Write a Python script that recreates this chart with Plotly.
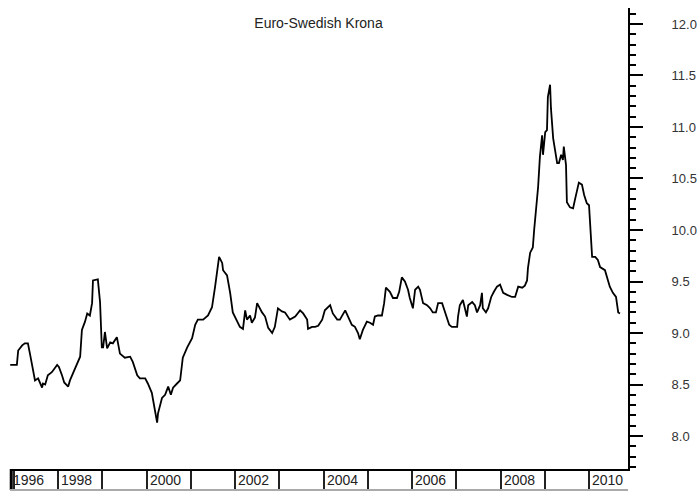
import plotly.graph_objects as go

# Decimal-year positions and EUR/SEK values
years = [1996.92, 1997.07, 1997.10, 1997.19, 1997.25, 1997.32, 1997.37, 1997.44, 1997.48, 1997.55,
         1997.64, 1997.66, 1997.71, 1997.77, 1997.86, 1997.98, 1998.02, 1998.09, 1998.14, 1998.23,
         1998.27, 1998.34, 1998.45, 1998.50, 1998.54, 1998.61, 1998.66, 1998.72, 1998.77, 1998.79,
         1998.90, 1998.95, 1998.99, 1999.02, 1999.06, 1999.11, 1999.18, 1999.24, 1999.33, 1999.40,
         1999.51, 1999.63, 1999.69, 1999.79, 1999.85, 1999.97, 2000.03, 2000.12, 2000.19, 2000.24,
         2000.26, 2000.35, 2000.42, 2000.49, 2000.55, 2000.60, 2000.69, 2000.76, 2000.82, 2000.92,
         2001.03, 2001.10, 2001.16, 2001.28, 2001.39, 2001.48, 2001.55, 2001.59, 2001.64, 2001.71,
         2001.73, 2001.82, 2001.89, 2001.95, 2002.05, 2002.11, 2002.18, 2002.23, 2002.27, 2002.34,
         2002.38, 2002.45, 2002.50, 2002.61, 2002.68, 2002.75, 2002.84, 2002.90, 2002.97, 2003.06,
         2003.13, 2003.18, 2003.24, 2003.36, 2003.47, 2003.54, 2003.63, 2003.65, 2003.74, 2003.81,
         2003.88, 2003.97, 2004.03, 2004.15, 2004.21, 2004.31, 2004.37, 2004.49, 2004.55, 2004.64,
         2004.71, 2004.78, 2004.82, 2004.89, 2004.98, 2005.05, 2005.12, 2005.16, 2005.23, 2005.32,
         2005.37, 2005.41, 2005.50, 2005.57, 2005.66, 2005.71, 2005.77, 2005.84, 2005.91, 2005.95,
         2006.02, 2006.07, 2006.14, 2006.18, 2006.25, 2006.34, 2006.41, 2006.47, 2006.54, 2006.59,
         2006.68, 2006.72, 2006.79, 2006.84, 2006.90, 2007.02, 2007.04, 2007.08, 2007.15, 2007.20,
         2007.24, 2007.27, 2007.36, 2007.42, 2007.47, 2007.54, 2007.58, 2007.60, 2007.67, 2007.72,
         2007.79, 2007.85, 2007.92, 2007.99, 2008.06, 2008.15, 2008.26, 2008.33, 2008.40, 2008.49,
         2008.55, 2008.60, 2008.62, 2008.67, 2008.73, 2008.76, 2008.80, 2008.85, 2008.89, 2008.94,
         2008.96, 2009.01, 2009.05, 2009.07, 2009.12, 2009.14, 2009.19, 2009.23, 2009.28, 2009.32,
         2009.37, 2009.41, 2009.43, 2009.48, 2009.50, 2009.57, 2009.64, 2009.68, 2009.73, 2009.77,
         2009.84, 2009.89, 2009.95, 2010.00, 2010.07, 2010.14, 2010.20, 2010.25, 2010.36, 2010.41,
         2010.47, 2010.54, 2010.61, 2010.66, 2010.70]

rates = [8.69, 8.69, 8.83, 8.88, 8.90, 8.90, 8.79, 8.61, 8.54, 8.56,
         8.47, 8.51, 8.50, 8.59, 8.62, 8.69, 8.67, 8.59, 8.52, 8.48,
         8.54, 8.61, 8.71, 8.77, 9.03, 9.11, 9.19, 9.17, 9.29, 9.51,
         9.52, 9.30, 8.86, 8.86, 9.01, 8.85, 8.91, 8.90, 8.96, 8.80,
         8.76, 8.77, 8.72, 8.59, 8.56, 8.56, 8.51, 8.42, 8.25, 8.13,
         8.22, 8.37, 8.40, 8.48, 8.40, 8.47, 8.51, 8.54, 8.76, 8.86,
         8.95, 9.08, 9.13, 9.13, 9.17, 9.25, 9.45, 9.59, 9.74, 9.68,
         9.61, 9.56, 9.39, 9.20, 9.11, 9.06, 9.04, 9.22, 9.13, 9.17,
         9.10, 9.15, 9.29, 9.20, 9.16, 9.05, 9.00, 9.06, 9.24, 9.21,
         9.20, 9.17, 9.13, 9.16, 9.22, 9.19, 9.13, 9.04, 9.06, 9.06,
         9.07, 9.13, 9.22, 9.27, 9.19, 9.13, 9.13, 9.22, 9.17, 9.08,
         9.06, 9.00, 8.94, 9.03, 9.11, 9.10, 9.08, 9.16, 9.17, 9.17,
         9.29, 9.44, 9.40, 9.34, 9.34, 9.40, 9.54, 9.50, 9.42, 9.34,
         9.24, 9.42, 9.45, 9.42, 9.29, 9.27, 9.24, 9.20, 9.20, 9.29,
         9.29, 9.24, 9.15, 9.08, 9.06, 9.06, 9.16, 9.27, 9.32, 9.24,
         9.16, 9.27, 9.30, 9.27, 9.20, 9.27, 9.39, 9.24, 9.20, 9.24,
         9.35, 9.40, 9.45, 9.47, 9.39, 9.37, 9.35, 9.35, 9.45, 9.44,
         9.46, 9.51, 9.63, 9.78, 9.83, 10.00, 10.17, 10.42, 10.71, 10.92,
         10.73, 10.95, 10.97, 11.29, 11.41, 11.18, 10.89, 10.80, 10.65, 10.65,
         10.73, 10.68, 10.81, 10.63, 10.27, 10.22, 10.21, 10.29, 10.39, 10.46,
         10.44, 10.34, 10.26, 10.24, 9.74, 9.74, 9.71, 9.64, 9.61, 9.53,
         9.45, 9.39, 9.35, 9.20, 9.19]

title_text = "Euro-Swedish Krona"
year_ticks = list(range(1997, 2011))
year_label_pos = [1996.915, 1998, 2000, 2002, 2004, 2006, 2008, 2010]
year_label_text = ["1996", "1998", "2000", "2002", "2004", "2006", "2008", "2010"]
value_ticks = [8.0, 8.5, 9.0, 9.5, 10.0, 10.5, 11.0, 11.5, 12.0]
value_tick_text = ["8.0", "8.5", "9.0", "9.5", "10.0", "10.5", "11.0", "11.5", "12.0"]

x_range = [1996.915, 2010.881]
y_range = [7.68, 12.155]

FONT = "Liberation Sans, Arial, sans-serif"

fig = go.Figure()
fig.add_trace(go.Scatter(x=years, y=rates, mode="lines",
                         line=dict(color="black", width=1.8),
                         showlegend=False, hoverinfo="skip"))

band_bottom = -0.0456

fig.update_layout(
    width=700, height=492,
    margin=dict(l=10, r=72, t=8, b=23, autoexpand=False),
    paper_bgcolor="white", plot_bgcolor="white",
    font=dict(family=FONT, size=13, color="#222"),
    xaxis=dict(range=x_range, showgrid=False, zeroline=False, automargin=False,
               showline=True, linecolor="black", linewidth=2,
               tickmode="array", tickvals=year_ticks, ticks="outside",
               ticklen=20, tickwidth=2, tickcolor="#222",
               showticklabels=False),
    yaxis=dict(range=y_range, side="right", showgrid=False, zeroline=False,
               automargin=False,
               showline=True, linecolor="black", linewidth=2,
               tickmode="array", tickvals=value_ticks, ticktext=value_tick_text,
               ticks="outside", ticklen=13, tickwidth=2,
               tickcolor="black", ticklabelstandoff=26, ticklabeloverflow="allow",
               tickfont=dict(size=13, color="#333"),
               minor=dict(dtick=0.1, tick0=8.0, ticks="outside", ticklen=6,
                          tickwidth=2, tickcolor="black")),
    title=dict(text=title_text, x=0.455, xanchor="center", y=0.953, yanchor="middle",
               font=dict(size=14, color="#222")),
)

# left border of the year band (thick) and bottom band line
fig.add_shape(type="line", xref="paper", yref="paper", x0=0.002, x1=0.002,
              y0=0, y1=band_bottom, line=dict(color="black", width=3))
fig.add_shape(type="line", xref="paper", yref="paper", x0=0, x1=1,
              y0=band_bottom, y1=band_bottom, line=dict(color="#aaa", width=2))

for pos, txt in zip(year_label_pos, year_label_text):
    fig.add_annotation(x=pos, y=-0.002, xref="x", yref="paper", text=txt,
                       showarrow=False, xanchor="left", yanchor="top", xshift=1,
                       font=dict(size=14, color="#222"))

fig.write_html("out.html", config={"displayModeBar": False},
               post_script="document.body.style.margin='0';document.body.style.padding='0';document.body.style.overflow='hidden';")
